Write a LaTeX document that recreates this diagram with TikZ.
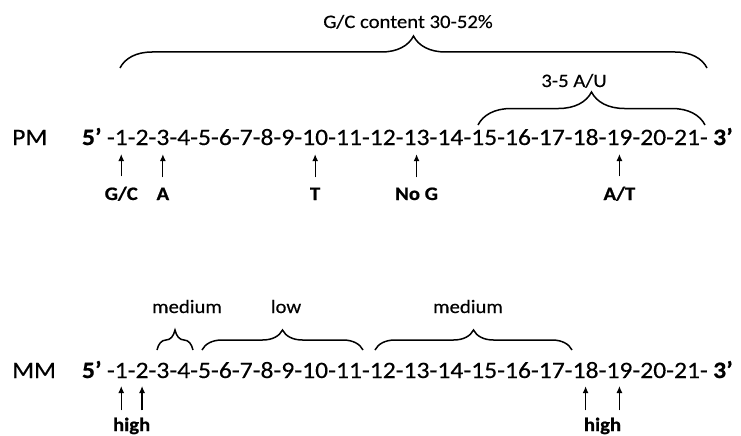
\documentclass[tikz,border=0pt]{standalone}
\usepackage{fontspec}
\setmainfont{Carlito}[FakeStretch=1.09,UprightFeatures={FakeBold=0.3},BoldFeatures={FakeBold=0.8}]
\usetikzlibrary{arrows.meta,decorations.pathreplacing}
\begin{document}
\begin{tikzpicture}[x=1pt,y=-1pt,
  seq/.style={inner sep=0pt,outer sep=0pt,anchor=base west,font=\fontsize{23.5}{28}\selectfont},
  rowlab/.style={inner sep=0pt,anchor=base west,font=\fontsize{23.5}{28}\selectfont},
  lab/.style={inner sep=0pt,anchor=base,font=\fontsize{19}{22}\selectfont\bfseries},
  blab/.style={inner sep=0pt,anchor=base,font=\fontsize{19}{22}\selectfont},
  arr/.style={line width=1.2pt,-{Latex[length=7pt,width=6pt]}},
  br/.style={line width=1.5pt,decorate},
]
\useasboundingbox (0,0) rectangle (741,436);

% ---- PM row ----
\node[rowlab] (pmlab) at (12,145) {PM};
\node[seq] (pm0) at (82,145) {\textbf{5’}\hspace{0.226em}\strut};
\foreach \i [evaluate=\i as \j using int(\i-1)] in {1,...,21}{
  \node[seq] (pmd\i) at (pm\j.base east) {-};
  \node[seq] (pm\i) at (pmd\i.base east) {\i};
}
\node[seq] (pmd22) at (pm21.base east) {-};
\node[seq] (pmend) at (pmd22.base east) {\hspace{0.226em}\textbf{3’}};

% braces PM
\draw[br,decoration={brace,amplitude=32pt}] (120,68) -- (707,68);
\node[blab] (gc) at (408,28) {G/C content 30-52\%};
\draw[br,decoration={brace,amplitude=33pt}] (478,125) -- (705,125);
\node[blab] (au) at (574,87) {3-5 A/U};

% labels + arrows PM
\node[lab] (l1) at (pm1 |- 0,200) {G/C};
\node[lab] (l3) at (pm3 |- 0,200) {A};
\node[lab] (l10) at (pm10 |- 0,200) {T};
\node[lab] (l13) at (pm13 |- 0,200) {No G};
\node[lab] (l19) at (pm19 |- 0,200) {A/T};
\foreach \k in {1,3,10,13,19}{
  \draw[arr] ([yshift=10pt]l\k.north) -- ([yshift=-9pt]pm\k.south);
}

% ---- MM row ----
\node[rowlab] (mmlab) at (12,378) {MM};
\node[seq] (mm0) at (82,378) {\textbf{5’}\hspace{0.226em}\strut};
\foreach \i [evaluate=\i as \j using int(\i-1)] in {1,...,21}{
  \node[seq] (mmd\i) at (mm\j.base east) {-};
  \node[seq] (mm\i) at (mmd\i.base east) {\i};
}
\node[seq] (mmd22) at (mm21.base east) {-};
\node[seq] (mmend) at (mmd22.base east) {\hspace{0.226em}\textbf{3’}};

% braces MM
\draw[br,decoration={brace,amplitude=20pt}] (157,350) -- (193,350);
\node[blab] (med1) at (187,313) {medium};
\draw[br,decoration={brace,amplitude=20pt}] (202,350) -- (363,350);
\node[blab] (low) at (286,313) {low};
\draw[br,decoration={brace,amplitude=20pt}] (375,350) -- (572,350);
\node[blab] (med2) at (468,313) {medium};

% high labels + arrows
\path (mm1.south) -- (mm2.south) coordinate[pos=0.5] (ha);
\path (mm18.south) -- (mm19.south) coordinate[pos=0.5] (hb);
\node[lab] (high1) at (ha |- 0,431) {high};
\node[lab] (high2) at (hb |- 0,431) {high};
\foreach \k in {1,2}{
  \draw[arr] ([yshift=7pt]high1.north -| mm\k) -- ([yshift=-8pt]mm\k.south);
}
\foreach \k in {18,19}{
  \draw[arr] ([yshift=7pt]high2.north -| mm\k) -- ([yshift=-8pt]mm\k.south);
}
\end{tikzpicture}
\end{document}
